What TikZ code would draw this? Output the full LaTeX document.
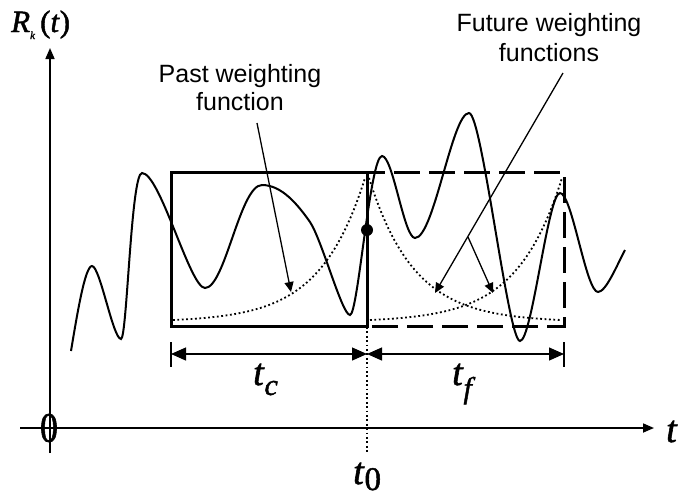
\documentclass[tikz,border=0pt]{standalone}
\usepackage{fontspec}
\setmainfont{Liberation Serif}
\newfontfamily\helv{Liberation Sans}
\newfontfamily\tms{Liberation Serif}[FakeBold=1.5]
\usetikzlibrary{arrows.meta}
\tikzset{
  axisline/.style={line width=1.7pt,-{Triangle[length=11pt,width=9pt]}},
  sigcurve/.style={line width=2pt},
  pastbox/.style={line width=3pt},
  futbox/.style={line width=3pt,dash pattern=on 26pt off 9pt,dash phase=-6pt},
  wfun/.style={line width=1.8pt,dash pattern=on 1.8pt off 2.6pt},
  pointer/.style={line width=1.3pt,-{Triangle[length=10pt,width=9pt]}},
  dimline/.style={line width=1.3pt,{Triangle[length=15pt,width=13pt]}-{Triangle[length=15pt,width=13pt]}},
  dimbar/.style={line width=1.3pt},
  sanslab/.style={font=\helv\fontsize{25}{28}\selectfont,align=center,inner sep=0pt},
  serlab/.style={inner sep=0pt,font=\tms}
}
\begin{document}
\begin{tikzpicture}[x=1pt,y=-1pt]
\useasboundingbox (0,0) rectangle (699,496);
% axes
\coordinate (yb) at (50,453);
\coordinate (yt) at (50,48);
\coordinate (xl) at (20,428);
\coordinate (xr) at (654,428);
\draw[axisline] (yb) -- (yt);
\draw[axisline] (xl) -- (xr);
\node[serlab,xscale=0.85] (zero) at (49,428) {\fontsize{42}{42}\selectfont 0};
\node[serlab,anchor=base west] (tlab) at (666,442) {\fontsize{38}{38}\selectfont\textit{t}};
\node[serlab,anchor=base west] (Rlab) at (11,32) {\fontsize{31}{31}\selectfont\textit{R}\raisebox{-7pt}{\fontsize{11}{11}\selectfont\textit{k}}\hspace{5pt}(\textit{t})};
% boxes
\coordinate (pbl) at (171,326);
\coordinate (ptr) at (367,172);
\coordinate (fbl) at (367,326);
\coordinate (ftr) at (564,172);
\draw[futbox] (fbl) rectangle (ftr);
\draw[pastbox] (pbl) rectangle (ptr);
% weighting functions
\draw[wfun] plot[domain=173:365,samples=70] (\x,{322-144*exp(-(365-\x)/45)});
\draw[wfun] plot[domain=369:562,samples=70] (\x,{322-144*exp(-(\x-369)/45)});
\draw[wfun] plot[domain=370:562,samples=70] (\x,{322-144*exp(-(562-\x)/45)});
% signal
\draw[sigcurve] (71,351) .. controls (77,315) and (85,266) .. (92,266)
 .. controls (100,266) and (113,339) .. (121,339)
 .. controls (127,339) and (131,173) .. (142,173)
 .. controls (160,173) and (190,288) .. (205,288)
 .. controls (225,288) and (240,185) .. (262,185)
 .. controls (282,185) and (298,205) .. (310,222)
 .. controls (322,240) and (342,315) .. (350,315)
 .. controls (358,315) and (370,156) .. (382,156)
 .. controls (393,156) and (404,238) .. (415,238)
 .. controls (434,238) and (452,113) .. (469,113)
 .. controls (482,113) and (508,341) .. (520,341)
 .. controls (532,341) and (548,193) .. (560,193)
 .. controls (572,193) and (586,292) .. (598,292)
 .. controls (606,292) and (617,265) .. (625,250);
% t0 point and line
\node[circle,fill=black,inner sep=0pt,minimum size=12pt] (dot) at (367,230) {};
\coordinate (t0top) at (367,327);
\coordinate (t0bot) at (367,453);
\draw[wfun] (t0top) -- (t0bot);
\node[serlab,anchor=base west] (t0lab) at (353,484) {\fontsize{38}{38}\selectfont\textit{t}\raisebox{-6pt}{\fontsize{33}{33}\selectfont 0}};
% dimension arrows
\coordinate (dl) at (171,354);
\coordinate (dm) at (367,354);
\coordinate (dr) at (564,354);
\draw[dimbar] (171,342) -- (171,367);
\draw[dimbar] (564,342) -- (564,367);
\draw[dimline] (dl) -- (dm);
\draw[dimline] (dm) -- (dr);
\node[serlab,anchor=base west] (tclab) at (253,385) {\fontsize{38}{38}\selectfont\textit{t}\raisebox{-10pt}{\fontsize{30}{30}\selectfont\textit{c}}};
\node[serlab,anchor=base west] (tflab) at (452,385) {\fontsize{38}{38}\selectfont\textit{t}\raisebox{-13pt}{\fontsize{30}{30}\selectfont\textit{f}}};
% labels and pointers
\node[sanslab] (past) at (240,88) {Past weighting\\function};
\node[sanslab,font=\helv\fontsize{25}{30}\selectfont] (fut) at (549,38) {Future weighting\\functions};
\coordinate (ps) at (257,123);
\coordinate (pe) at (291,292);
\draw[pointer] (ps) -- (pe);
\coordinate (fs) at (563,73);
\coordinate (fb) at (468,237);
\coordinate (fe1) at (435,293);
\coordinate (fe2) at (493,293);
\draw[pointer] (fs) -- (fe1);
\draw[pointer] (fb) -- (fe2);
\end{tikzpicture}
\end{document}
